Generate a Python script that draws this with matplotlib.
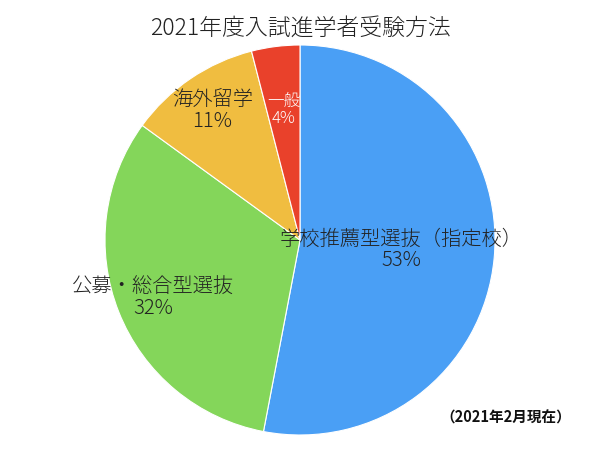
import numpy as np
import matplotlib
matplotlib.use("Agg")
import matplotlib.pyplot as plt

plt.rcParams['font.family'] = ['Noto Sans CJK JP', 'DejaVu Sans']

title = "2021年度入試進学者受験方法"
categories = ["学校推薦型選抜（指定校）", "公募・総合型選抜", "海外留学", "一般"]
values = [53, 32, 11, 4]
colors = ["#4a9ff5", "#84d65a", "#f0bd40", "#e9412b"]
label_colors = ["#222222", "#222222", "#222222", "white"]
label_sizes = [14.6, 14.6, 14.6, 12]
label_radius = [0.52, 0.81, 0.80, 0.67]
note = "（2021年2月現在）"

fig = plt.figure(figsize=(6, 4.5), dpi=100)
ax = fig.add_axes([0, 0, 1, 1])

cx, cy, R = 300, 210, 195
wedges, _ = ax.pie(values, colors=colors, startangle=90, counterclock=False,
                   center=(cx, cy), radius=R, frame=True,
                   wedgeprops=dict(edgecolor='white', linewidth=0.8))
ax.set_xlim(0, 600)
ax.set_ylim(0, 450)
ax.set_aspect('equal')
ax.axis('off')

for w, cat, v, col, fs, rf in zip(wedges, categories, values, label_colors, label_sizes, label_radius):
    ang = np.deg2rad((w.theta1 + w.theta2) / 2)
    x = cx + rf * R * np.cos(ang)
    y = cy + rf * R * np.sin(ang)
    ax.text(x, y, f"{cat}\n{v}%", ha='center', va='center', fontsize=fs,
            color=col, linespacing=1.0, fontweight='light')

ax.text(300, 422, title, ha='center', va='center', fontsize=16.5, color='#222222',
        fontweight='light')
ax.text(506, 32, note, ha='center', va='center', fontsize=10.5, fontweight='bold', color='#111111')

fig.savefig("out.png", dpi=100)
